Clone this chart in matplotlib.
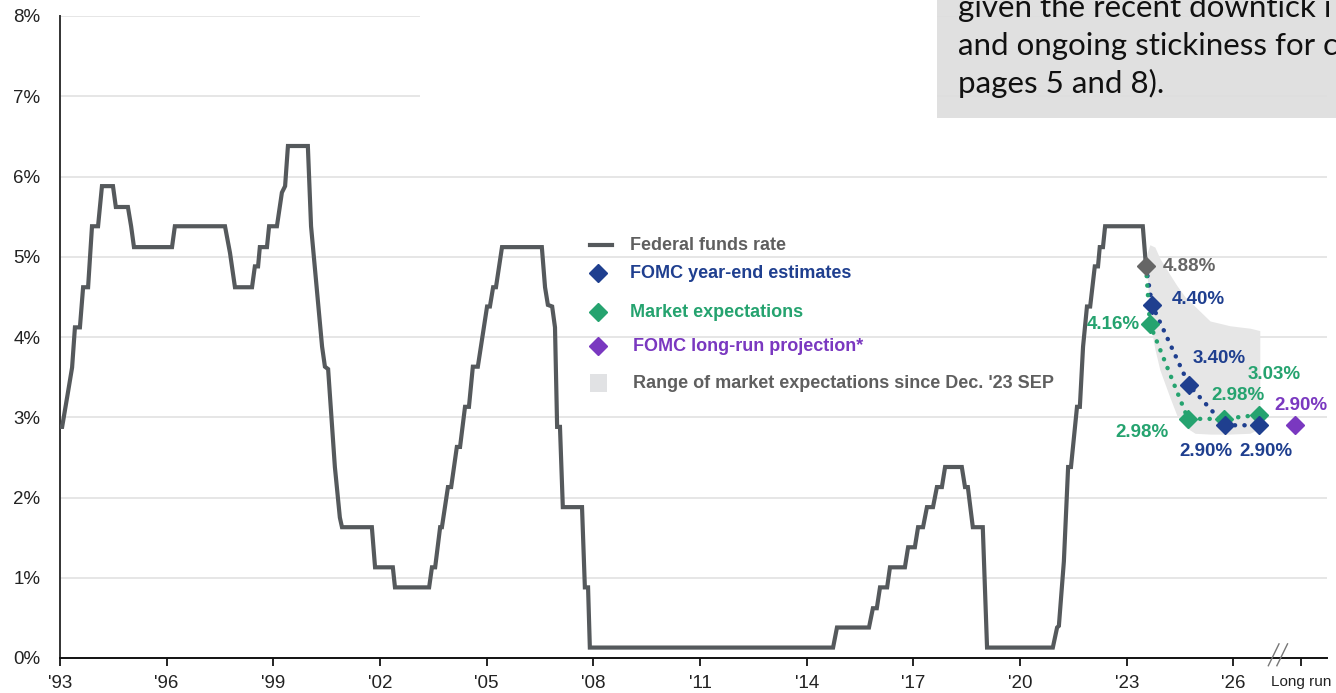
import matplotlib
matplotlib.use("Agg")
import matplotlib.pyplot as plt
import matplotlib.transforms as mtransforms
from matplotlib.lines import Line2D
from matplotlib.patches import Rectangle

# positions on the chart's year axis (tick '93 = 1993.0), rates in %
ffr_x = [1993.00, 1993.06, 1993.22, 1993.34, 1993.42, 1993.56, 1993.65, 1993.79,
         1993.90, 1994.07, 1994.18, 1994.49, 1994.57, 1994.91, 1995.00, 1995.08,
         1996.15, 1996.23, 1997.64, 1997.78, 1997.92, 1998.40, 1998.48, 1998.57,
         1998.62, 1998.82, 1998.88, 1999.10, 1999.24, 1999.33, 1999.41, 1999.97,
         2000.06, 2000.37, 2000.45, 2000.54, 2000.73, 2000.87, 2000.93, 2001.77,
         2001.86, 2002.36, 2002.42, 2003.38, 2003.46, 2003.55, 2003.69, 2003.74,
         2003.91, 2004.00, 2004.16, 2004.25, 2004.39, 2004.50, 2004.61, 2004.75,
         2005.01, 2005.09, 2005.18, 2005.26, 2005.43, 2006.55, 2006.64, 2006.72,
         2006.84, 2006.92, 2006.98, 2007.06, 2007.14, 2007.68, 2007.76, 2007.85,
         2007.90, 2014.74, 2014.85, 2015.75, 2015.86, 2015.97, 2016.06, 2016.26,
         2016.34, 2016.76, 2016.85, 2017.04, 2017.13, 2017.27, 2017.38, 2017.55,
         2017.66, 2017.80, 2017.89, 2018.36, 2018.45, 2018.53, 2018.67, 2018.95,
         2019.07, 2020.92, 2021.04, 2021.09, 2021.23, 2021.35, 2021.43, 2021.60,
         2021.68, 2021.77, 2021.88, 2021.97, 2022.10, 2022.19, 2022.24, 2022.33,
         2022.39, 2023.45]
ffr_rate = [2.88, 2.88, 3.30, 3.62, 4.12, 4.12, 4.62, 4.62,
            5.38, 5.38, 5.88, 5.88, 5.62, 5.62, 5.38, 5.12,
            5.12, 5.38, 5.38, 5.05, 4.62, 4.62, 4.88, 4.88,
            5.12, 5.12, 5.38, 5.38, 5.80, 5.88, 6.38, 6.38,
            5.38, 3.88, 3.63, 3.60, 2.38, 1.75, 1.63, 1.63,
            1.13, 1.13, 0.88, 0.88, 1.13, 1.13, 1.63, 1.63,
            2.13, 2.13, 2.63, 2.63, 3.13, 3.13, 3.63, 3.63,
            4.38, 4.38, 4.62, 4.62, 5.12, 5.12, 4.62, 4.40,
            4.38, 4.12, 2.88, 2.88, 1.88, 1.88, 0.88, 0.88,
            0.13, 0.13, 0.38, 0.38, 0.62, 0.62, 0.88, 0.88,
            1.13, 1.13, 1.38, 1.38, 1.63, 1.63, 1.88, 1.88,
            2.13, 2.13, 2.38, 2.38, 2.13, 2.13, 1.63, 1.63,
            0.13, 0.13, 0.38, 0.40, 1.20, 2.38, 2.38, 3.13,
            3.13, 3.88, 4.38, 4.38, 4.88, 4.88, 5.12, 5.12,
            5.38, 5.38]

current_x = 2023.54
current_rate = 4.88

fomc_x = [2023.71, 2024.75, 2025.76, 2026.72]
fomc_rate = [4.40, 3.40, 2.90, 2.90]

market_x = [2023.65, 2024.72, 2025.73, 2026.72]
market_rate = [4.16, 2.98, 2.98, 3.03]

longrun_x = 2027.73
longrun_rate = 2.90

range_x = [2023.57, 2023.65, 2023.79, 2023.93, 2024.21, 2024.41, 2024.64,
           2024.92, 2025.34, 2025.90, 2026.46, 2026.74]
range_high = [5.05, 5.15, 5.12, 4.98, 4.78, 4.64, 4.50, 4.38, 4.20, 4.14, 4.11, 4.08]
range_low = [4.80, 4.20, 3.85, 3.59, 3.25, 3.02, 2.88, 2.80, 2.79, 2.79, 2.80, 2.86]

year_ticks = list(range(1993, 2027, 3))
year_labels = ["'93", "'96", "'99", "'02", "'05", "'08", "'11", "'14", "'17",
               "'20", "'23", "'26"]
longrun_tick = 2027.9

note_lines = ["given the recent downtick i", "and ongoing stickiness for c",
              "pages 5 and 8)."]

GRAY = "#55595c"
BLUE = "#1f3f8f"
GREEN = "#25a36f"
PURPLE = "#7a38c0"
LABEL_GRAY = "#5f5f5f"

plt.rcParams['font.family'] = ['Liberation Sans', 'DejaVu Sans']

fig = plt.figure(figsize=(13.36, 6.93), dpi=100)
ax = fig.add_axes([60 / 1336, 35 / 693, 1267 / 1336, 642 / 693])

ax.set_xlim(1993, 2028.63)
ax.set_ylim(0, 8)

for v in range(1, 9):
    ax.axhline(v, color="#e4e4e4", lw=1.3, zorder=0)

# range of market expectations
ax.fill_between(range_x, range_low, range_high, color="#e6e6e6", lw=0, zorder=1)

# dotted paths
dots = dict(lw=3.2, linestyle=(0, (0.05, 2.1)), dash_capstyle="round", zorder=4)
ax.plot([current_x] + fomc_x, [current_rate] + fomc_rate, color=BLUE, **dots)
ax.plot([current_x] + market_x, [current_rate] + market_rate, color=GREEN, **dots)

# federal funds rate
ax.plot(ffr_x + [current_x], ffr_rate + [current_rate], color=GRAY, lw=3.0,
        solid_joinstyle="miter", zorder=3)

ms = 9.5
ax.plot([current_x], [current_rate], "D", color="#666666", ms=ms, zorder=5)
ax.plot(fomc_x, fomc_rate, "D", color=BLUE, ms=ms, lw=0, zorder=6)
ax.plot(market_x, market_rate, "D", color=GREEN, ms=ms, lw=0, zorder=5)
ax.plot([longrun_x], [longrun_rate], "D", color=PURPLE, ms=ms, zorder=5)

lab = dict(fontsize=13.5, fontweight="bold", textcoords="offset points", va="center")
ax.annotate("%.2f%%" % current_rate, (current_x, current_rate), xytext=(12, 0),
            ha="left", color="#666666", **lab)
ax.annotate("%.2f%%" % fomc_rate[0], (fomc_x[0], fomc_rate[0]), xytext=(14, 4),
            ha="left", color=BLUE, **lab)
ax.annotate("%.2f%%" % market_rate[0], (market_x[0], market_rate[0]), xytext=(-7, 0),
            ha="right", color=GREEN, **lab)
ax.annotate("%.2f%%" % fomc_rate[1], (fomc_x[1], fomc_rate[1]), xytext=(22, 19),
            ha="center", color=BLUE, **lab)
ax.annotate("%.2f%%" % market_rate[3], (market_x[3], market_rate[3]), xytext=(11, 29),
            ha="center", color=GREEN, **lab)
ax.annotate("%.2f%%" % market_rate[2], (market_x[2], market_rate[2]), xytext=(10, 17),
            ha="center", color=GREEN, **lab)
ax.annotate("%.2f%%" % longrun_rate, (longrun_x, longrun_rate), xytext=(4, 14),
            ha="center", color=PURPLE, **lab)
ax.annotate("%.2f%%" % market_rate[1], (market_x[1], market_rate[1]), xytext=(-33, -10),
            ha="center", color=GREEN, **lab)
ax.annotate("%.2f%%" % fomc_rate[2], (fomc_x[2], fomc_rate[2]), xytext=(-14, -19),
            ha="center", color=BLUE, **lab)
ax.annotate("%.2f%%" % fomc_rate[3], (fomc_x[3], fomc_rate[3]), xytext=(5, -19),
            ha="center", color=BLUE, **lab)

# axes styling
for s in ["top", "right"]:
    ax.spines[s].set_visible(False)
ax.spines["left"].set_color("#333333")
ax.spines["left"].set_linewidth(1.4)
ax.spines["bottom"].set_color("#111111")
ax.spines["bottom"].set_linewidth(1.4)

ax.set_yticks(range(0, 9))
ax.set_yticklabels(["%d%%" % v for v in range(0, 9)], fontsize=13.5, color="#222222")
ax.tick_params(axis="y", length=0, pad=14)
ax.set_xticks(year_ticks + [longrun_tick])
ax.set_xticklabels(year_labels + ["Long run"], fontsize=13.5, color="#222222")
ax.get_xticklabels()[-1].set_fontsize(11)
ax.tick_params(axis="x", length=6, width=1.2, direction="out", pad=6)

# axis break marks
brk = mtransforms.blended_transform_factory(ax.transData, ax.transAxes)
for off in (-0.12, 0.12):
    ax.plot([2027.1 + off, 2027.4 + off], [-0.012, 0.022], color="#777777",
            lw=1.0, transform=brk, clip_on=False, zorder=7)

# legend
lx, tx = 598 / 1336, 630 / 1336
rows = [245, 273, 312, 346, 383]
ry = [1 - r / 693 for r in rows]
fig.add_artist(Line2D([590 / 1336, 612 / 1336], [ry[0], ry[0]], color=GRAY, lw=3))
for y, c in zip(ry[1:4], [BLUE, GREEN, PURPLE]):
    fig.add_artist(Line2D([lx], [y], marker="D", color=c, ms=9.5))
fig.add_artist(Rectangle((590 / 1336, ry[4] - 9 / 693), 17 / 1336, 18 / 693,
                         color="#e1e2e4", lw=0))
leg = dict(fontsize=13, fontweight="bold", va="center", ha="left")
fig.text(tx, ry[0], "Federal funds rate", color=LABEL_GRAY, **leg)
fig.text(tx, ry[1], "FOMC year-end estimates", color=BLUE, **leg)
fig.text(tx, ry[2], "Market expectations", color=GREEN, **leg)
fig.text(633 / 1336, ry[3], "FOMC long-run projection*", color=PURPLE, **leg)
fig.text(633 / 1336, ry[4], "Range of market expectations since Dec. '23 SEP",
         color=LABEL_GRAY, **leg)

# covering boxes at the top
fig.add_artist(Rectangle((420 / 1336, 1 - 110 / 693), 517 / 1336, 110 / 693,
                         color="white", lw=0, zorder=2))
fig.add_artist(Rectangle((937 / 1336, 1 - 118 / 693), 399 / 1336, 118 / 693,
                         color="#dedede", lw=0, alpha=0.93, zorder=2))
for i, line in enumerate(note_lines):
    fig.text(958 / 1336, 1 - (17 + 38 * i) / 693, line, fontsize=22.5,
             family=["Lato", "DejaVu Sans"], color="#111111", va="baseline",
             ha="left", zorder=3)

fig.savefig("out.png", dpi=100)
